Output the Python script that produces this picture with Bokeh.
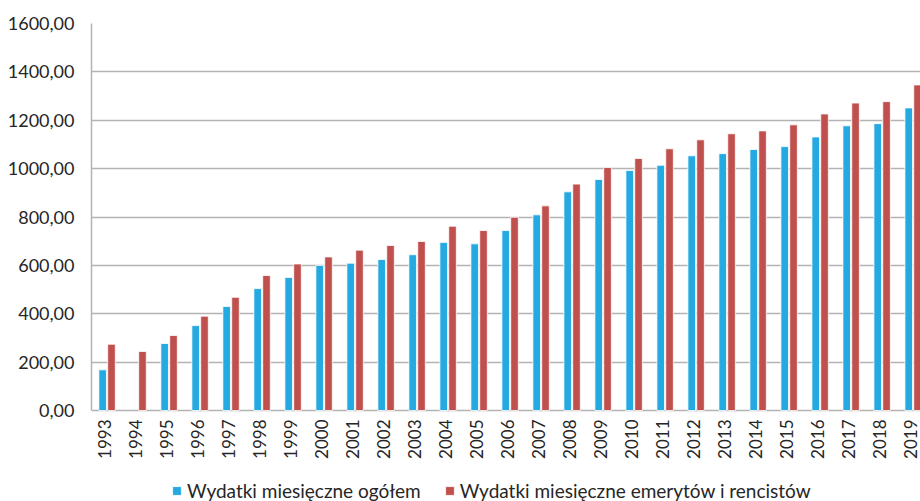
import math
from bokeh.plotting import figure
from bokeh.models import ColumnDataSource, Range1d, FixedTicker, Legend, LegendItem
from bokeh.core.properties import value
from bokeh.transform import dodge
from bokeh.embed import file_html
from bokeh.resources import INLINE

years = ["1993", "1994", "1995", "1996", "1997", "1998", "1999", "2000", "2001",
         "2002", "2003", "2004", "2005", "2006", "2007", "2008", "2009", "2010",
         "2011", "2012", "2013", "2014", "2015", "2016", "2017", "2018", "2019"]
ogolem = [168, float("nan"), 277, 351, 430, 504, 550, 600, 609,
          624, 644, 695, 689, 744, 809, 904, 955, 992,
          1014, 1053, 1062, 1079, 1091, 1131, 1177, 1186, 1251]
emeryci = [274, 244, 310, 390, 468, 558, 606, 635, 663,
           682, 699, 762, 744, 799, 846, 936, 1005, 1042,
           1082, 1119, 1144, 1156, 1181, 1226, 1271, 1277, 1346]
y_ticks = [0, 200, 400, 600, 800, 1000, 1200, 1400, 1600]
y_tick_labels = ["0,00", "200,00", "400,00", "600,00", "800,00", "1000,00",
                 "1200,00", "1400,00", "1600,00"]
series_names = ["Wydatki miesięczne ogółem", "Wydatki miesięczne emerytów i rencistów"]

FONT = "Lato"
TXT = "#262626"
GRID = "#b3b3b3"

idx = list(range(len(years)))
src = ColumnDataSource(dict(x=idx, a=ogolem, b=emeryci, label=years))

# frame: left 91, top 23, bottom = canvas bottom; 0 -> y 410, 1600 -> y 23
H, TOP, ZERO_Y = 501, 23, 410
units_per_px = 1600 / (ZERO_Y - TOP)
y_min = -(H - ZERO_Y) * units_per_px

p = figure(width=920, height=H, output_backend="svg", toolbar_location=None,
           x_range=Range1d(-0.5, 26.24), y_range=Range1d(y_min, 1600),
           min_border_left=91, min_border_right=0, min_border_top=TOP,
           min_border_bottom=0)
p.outline_line_color = None
p.background_fill_color = "white"
p.xaxis.visible = False

r1 = p.vbar(x=dodge("x", -0.14), top="a", bottom=0, width=0.245, source=src,
            fill_color="#24a9e1", line_color="white", line_width=0.8)
r2 = p.vbar(x=dodge("x", 0.145), top="b", bottom=0, width=0.245, source=src,
            fill_color="#c0504d", line_color="white", line_width=0.8)

# y axis
p.yaxis.ticker = FixedTicker(ticks=y_ticks)
p.yaxis.bounds = (0, 1600)
p.yaxis.major_label_overrides = {t: l for t, l in zip(y_ticks, y_tick_labels)}
p.yaxis.major_tick_line_color = None
p.yaxis.minor_tick_line_color = None
p.yaxis.axis_line_color = GRID
p.yaxis.axis_line_width = 1.5
p.yaxis.major_label_text_font = FONT
p.yaxis.major_label_text_font_size = "18px"
p.yaxis.major_label_text_color = TXT
p.yaxis.major_label_standoff = 11

p.xgrid.grid_line_color = None
p.ygrid.grid_line_color = GRID
p.ygrid.grid_line_width = 1.5

# category labels (x axis), rotated, below the zero line
p.text(x="x", y=0, text="label", source=src, angle=math.pi / 2,
       text_align="right", text_baseline="middle", y_offset=9, x_offset=-3,
       text_font=value(FONT), text_font_size="17px", text_color=TXT)

legend = Legend(items=[LegendItem(label=series_names[0], renderers=[r1]),
                       LegendItem(label=series_names[1], renderers=[r2])],
                orientation="horizontal", location=(80, -1),
                glyph_width=11, glyph_height=11, label_standoff=5, spacing=23,
                padding=0, margin=0, border_line_color=None,
                background_fill_alpha=0,
                label_text_font=FONT, label_text_font_size="19px",
                label_text_color=TXT)
p.add_layout(legend, "center")

open("out.html", "w").write(file_html(p, INLINE))
